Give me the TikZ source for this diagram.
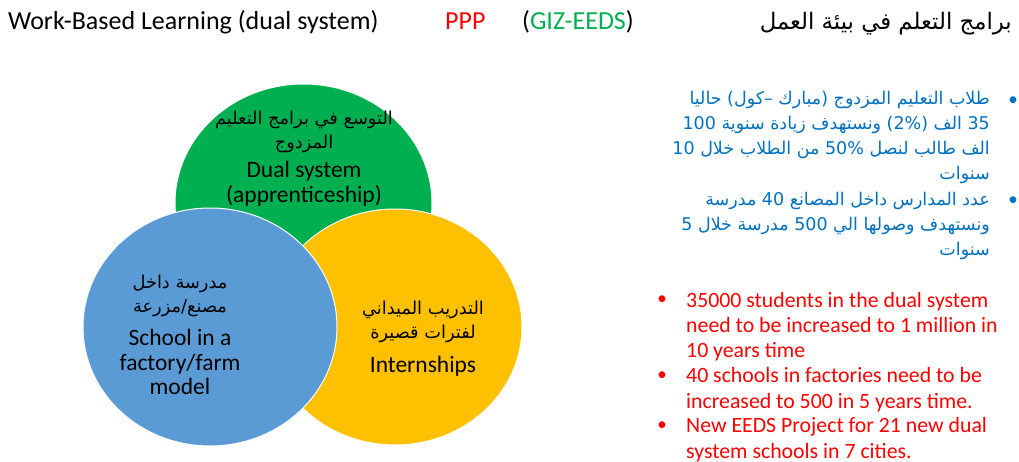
\documentclass[tikz,border=0pt]{standalone}
\usepackage{fontspec}
\setmainfont{Carlito}
\newfontfamily\arabicfont[Script=Arabic]{DejaVu Sans}
\TeXXeTstate=1
\usetikzlibrary{positioning}

\definecolor{wblgreen}{HTML}{00B050}
\definecolor{wblblue}{HTML}{5B9BD5}
\definecolor{wblyellow}{HTML}{FFC000}
\definecolor{wbllist}{HTML}{0070C0}
\definecolor{wblred}{HTML}{FF0000}

% one right-to-left line
\newcommand{\rtl}[1]{\beginR #1\endR}

\tikzset{
  venn/.style={draw=white, line width=1pt},
  arlabel/.style={font=\arabicfont\fontsize{17.8}{24}\selectfont, align=center, inner sep=0pt},
  enlabel/.style={font=\fontsize{23.5}{24.5}\selectfont, align=center, inner sep=0pt},
  artext/.style={font=\arabicfont\fontsize{17.5}{25}\selectfont, text=wbllist, align=right, inner sep=0pt},
  redtext/.style={font=\fontsize{21.8}{25.2}\selectfont, text=wblred, align=left, inner sep=0pt},
  dot/.style={font=\fontsize{19}{25}\selectfont, inner sep=0pt}
}

\begin{document}
\begin{tikzpicture}[x=1pt,y=-1pt]
  \useasboundingbox (0,0) rectangle (1019,462);

  % title line
  \node[anchor=base west, inner sep=0pt, font=\fontsize{26}{26}\selectfont] (title) at (8,30) {Work-Based Learning (dual system)};
  \node[anchor=base west, inner sep=0pt, font=\fontsize{26}{26}\selectfont, text=wblred] (ppp) at (445,30) {PPP};
  \node[anchor=base west, inner sep=0pt, font=\fontsize{26}{26}\selectfont] (giz) at (522,30) {(\textcolor{wblgreen}{GIZ-EEDS})};
  \node[anchor=base east, inner sep=0pt, font=\arabicfont\fontsize{22.8}{24}\selectfont] (artitle) at (1012,30) {\rtl{برامج التعلم في بيئة العمل}};

  % the three ellipses
  \fill[wblgreen, venn] (303.5,203) ellipse [x radius=128.5, y radius=119];
  \fill[wblyellow, venn] (395,327) ellipse [x radius=127, y radius=118];
  \fill[wblblue, venn] (210,327) ellipse [x radius=127, y radius=119];

  % labels inside
  \node[arlabel, anchor=north] (dualar) at (304,111) {\rtl{التوسع في برامج التعليم}\\\rtl{المزدوج}};
  \node[enlabel, below=8pt of dualar] (dualen) {Dual system\\(apprenticeship)};

  \node[arlabel, anchor=north] (schoolar) at (180,275) {\rtl{مدرسة داخل}\\\rtl{مصنع/مزرعة}};
  \node[enlabel, below=12pt of schoolar] (schoolen) {School in a\\factory/farm\\model};

  \node[arlabel, anchor=north] (internar) at (423,301) {\rtl{التدريب الميداني}\\\rtl{لفترات قصيرة}};
  \node[enlabel, below=13pt of internar] (internen) {Internships};

  % arabic notes
  \node[artext, anchor=north east] (note1) at (990,91) {\rtl{طلاب التعليم المزدوج (مبارك –كول) حاليا}\\\rtl{35 الف (2\%) ونستهدف زيادة سنوية 100}\\\rtl{الف طالب لنصل 50\% من الطلاب خلال 10}\\\rtl{سنوات}};
  \node[artext, anchor=north east] (note2) at (990,192) {\rtl{عدد المدارس داخل المصانع 40 مدرسة}\\\rtl{ونستهدف وصولها الي 500 مدرسة خلال 5}\\\rtl{سنوات}};
  \node[dot, text=wbllist] (b1) at (1013,101) {•};
  \node[dot, text=wbllist] (b2) at (1013,201) {•};

  % english notes
  \node[redtext, anchor=north west] (item1) at (686,292) {35000 students in the dual system\\need to be increased to 1 million in\\10 years time};
  \node[redtext, anchor=north west] (item2) at (686,367.5) {40 schools in factories need to be\\increased to 500 in 5 years time.};
  \node[redtext, anchor=north west] (item3) at (686,417.5) {New EEDS Project for 21 new dual\\system schools in 7 cities.};
  \node[dot, text=wblred] (r1) at (662,300) {•};
  \node[dot, text=wblred] (r2) at (662,376) {•};
  \node[dot, text=wblred] (r3) at (662,426) {•};
\end{tikzpicture}
\end{document}
